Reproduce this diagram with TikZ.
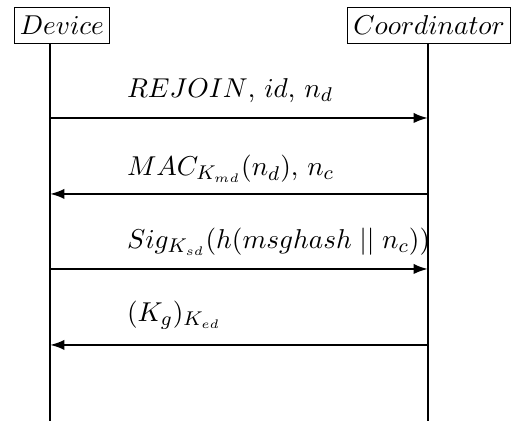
\documentclass[tikz,border=0pt]{standalone}
\usetikzlibrary{arrows.meta}

\begin{document}
\begin{tikzpicture}[>={Latex[length=5.8pt,width=4.2pt]},
  every node/.style={inner sep=3pt,font=\fontsize{10.8pt}{13pt}\selectfont},
  party/.style={draw,line width=0.5pt,inner xsep=2.3pt,inner ysep=3.5pt},
  lifeline/.style={line width=0.9pt},
  msg/.style={->,line width=0.9pt}]
  \useasboundingbox (0,0) rectangle (7.226,-5.94);
  % the two parties
  \node[party] (dev) at (0.875,-0.36) {$Device$};
  \node[party] (coord) at (6.055,-0.36) {$Coordinator$};
  \coordinate (devend) at (0.706,-5.94);
  \coordinate (coordend) at (6.04,-5.94);
  \draw[lifeline] (devend |- dev.south) -- (devend);
  \draw[lifeline] (coordend |- coord.south) -- (coordend);
  % message end points
  \coordinate (d1) at (0.706,-1.665);
  \coordinate (c1) at (6.04,-1.665);
  \coordinate (d2) at (0.706,-2.737);
  \coordinate (c2) at (6.04,-2.737);
  \coordinate (d3) at (0.706,-3.796);
  \coordinate (c3) at (6.04,-3.796);
  \coordinate (d4) at (0.706,-4.868);
  \coordinate (c4) at (6.04,-4.868);
  % messages
  \draw[msg] (d1) -- (c1);
  \draw[msg] (c2) -- (d2);
  \draw[msg] (d3) -- (c3);
  \draw[msg] (c4) -- (d4);
  \node[anchor=base west] (m1) at (1.68,-1.37) {$REJOIN$, $id$, $n_d$};
  \node[anchor=base west] (m2) at (1.68,-2.48) {$MAC_{K_{md}}(n_d)$, $n_c$};
  \node[anchor=base west] (m3) at (1.68,-3.51) {$Sig_{K_{sd}}(h(msghash \mathrel{||} n_c))$};
  \node[anchor=base west] (m4) at (1.68,-4.54) {$(K_g)_{K_{ed}}$};
\end{tikzpicture}
\end{document}
